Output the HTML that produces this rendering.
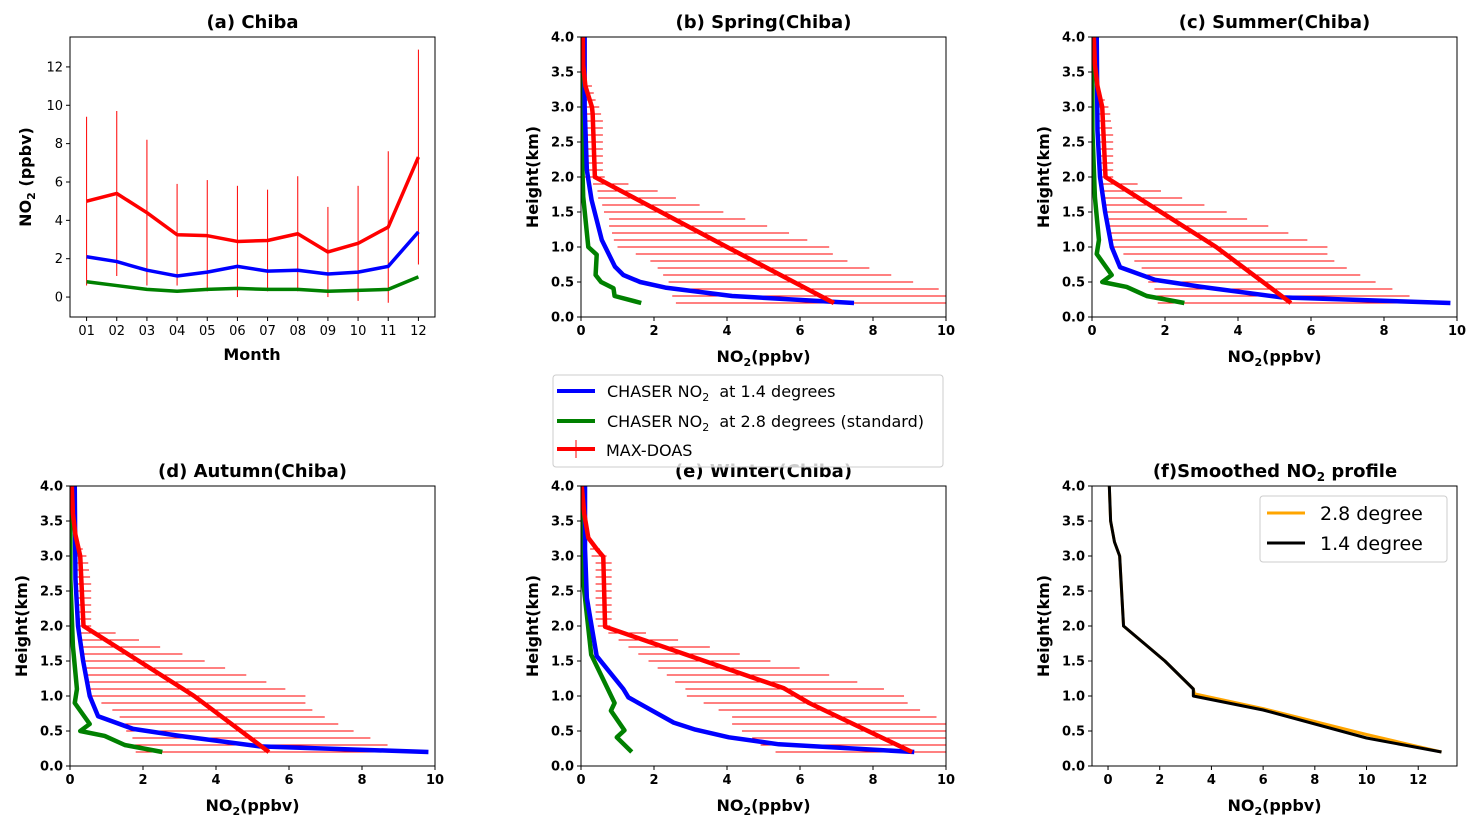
<!DOCTYPE html>
<html><head><meta charset="utf-8">
<style>
html,body{margin:0;padding:0;background:#fff;}
svg{display:block;font-family:"DejaVu Sans","Liberation Sans",sans-serif;}
</style></head>
<body>
<svg id="fig" width="1480" height="828" viewBox="0 0 1480 828" xmlns="http://www.w3.org/2000/svg"></svg>
<script>
// ---------- (a) monthly data ----------
const months = ["01","02","03","04","05","06","07","08","09","10","11","12"];
const aRed = [5.0,5.4,4.4,3.25,3.2,2.9,2.95,3.3,2.35,2.8,3.65,7.3];
const aRedErr = [4.4,4.3,3.8,2.65,2.9,2.9,2.65,3.0,2.35,3.0,3.95,5.6];
const aBlue = [2.1,1.85,1.4,1.1,1.3,1.6,1.35,1.4,1.2,1.3,1.6,3.4];
const aGreen = [0.8,0.6,0.4,0.3,0.4,0.45,0.4,0.4,0.3,0.35,0.4,1.05];
const aYTicks = [0,2,4,6,8,10,12];
const profXTicks = [0,2,4,6,8,10];
const profYTicks = [0.0,0.5,1.0,1.5,2.0,2.5,3.0,3.5,4.0];
const fXTicks = [0,2,4,6,8,10,12];
const errH = [0.2,0.3,0.4,0.5,0.6,0.7,0.8,0.9,1.0,1.1,1.2,1.3,1.4,1.5,1.6,1.7,1.8,1.9,2.0,2.1,2.2,2.3,2.4,2.5,2.6,2.7,2.8,2.9,3.0,3.1,3.2,3.3];
// ---------- (b) spring ----------
const bRedH = [0.2,1.0,1.8,2.0,2.9,3.0,3.3,3.6,4.0];
const bRedV = [6.93,4.0,1.1,0.38,0.32,0.3,0.12,0.06,0.05];
const bBlueH = [0.2,0.3,0.42,0.5,0.6,0.72,1.1,1.67,2.1,3.0,4.0];
const bBlueV = [7.48,4.14,2.31,1.62,1.16,0.93,0.57,0.29,0.16,0.1,0.1];
const bGreenH = [0.2,0.3,0.41,0.5,0.6,0.89,1.0,1.72,2.1,3.0,4.0];
const bGreenV = [1.65,0.92,0.89,0.55,0.40,0.43,0.2,0.06,0.04,0.02,0.02];
const bErrLo = [2.6,2.5,2.5,2.4,2.25,2.1,1.9,1.5,1.0,0.9,0.85,0.77,0.77,0.63,0.58,0.47,0.45,0.33,0.1,0.1,0.1,0.1,0.1,0.1,0.1,0.1,0.1,0.08,0.07,0.06,0.05,0.05];
const bErrHi = [12,12,9.8,9.1,8.5,7.9,7.3,6.9,6.8,6.2,5.7,5.1,4.5,3.9,3.25,2.6,2.1,1.3,0.65,0.6,0.6,0.6,0.6,0.6,0.6,0.6,0.6,0.55,0.5,0.4,0.35,0.3];
// ---------- (c) summer ----------
const cRedH = [0.2,1.0,1.1,2.0,3.0,3.3,3.6,4.0];
const cRedV = [5.45,3.4,3.1,0.37,0.28,0.15,0.08,0.05];
const cBlueH = [0.2,0.28,0.43,0.53,0.71,1.0,1.5,2.0,2.67,4.0];
const cBlueV = [9.82,5.2,3.0,1.73,0.77,0.54,0.36,0.22,0.15,0.13];
const cGreenH = [0.2,0.3,0.43,0.5,0.6,0.9,1.1,1.71,2.67,4.0];
const cGreenV = [2.53,1.5,0.95,0.28,0.54,0.13,0.19,0.08,0.01,0.01];
const cErrLo = [1.8,1.77,1.71,1.54,1.5,1.36,1.16,0.86,0.54,0.49,0.47,0.43,0.37,0.34,0.31,0.28,0.26,0.25,0.25,0.17,0.17,0.17,0.17,0.17,0.17,0.17,0.17,0.17,0.17,0.12,0.1,0.08];
const cErrHi = [9.6,8.7,8.23,7.77,7.35,6.98,6.64,6.45,6.45,5.9,5.38,4.83,4.25,3.69,3.08,2.47,1.89,1.25,0.58,0.58,0.58,0.58,0.58,0.58,0.58,0.55,0.52,0.5,0.45,0.35,0.25,0.2];
// ---------- (d) autumn ----------
const dRedH = [0.2,1.0,1.1,2.0,3.0,3.3,3.6,4.0];
const dRedV = [5.45,3.4,3.1,0.37,0.28,0.15,0.08,0.05];
const dBlueH = [0.2,0.28,0.43,0.53,0.71,1.0,1.5,2.0,2.67,4.0];
const dBlueV = [9.82,5.2,3.0,1.73,0.77,0.54,0.36,0.22,0.15,0.13];
const dGreenH = [0.2,0.3,0.43,0.5,0.6,0.9,1.1,1.71,2.67,4.0];
const dGreenV = [2.53,1.5,0.95,0.28,0.54,0.13,0.19,0.08,0.01,0.01];
const dErrLo = [1.8,1.77,1.71,1.54,1.5,1.36,1.16,0.86,0.54,0.49,0.47,0.43,0.37,0.34,0.31,0.28,0.26,0.25,0.25,0.17,0.17,0.17,0.17,0.17,0.17,0.17,0.17,0.17,0.17,0.12,0.1,0.08];
const dErrHi = [9.6,8.7,8.23,7.77,7.35,6.98,6.64,6.45,6.45,5.9,5.38,4.83,4.25,3.69,3.08,2.47,1.89,1.25,0.58,0.58,0.58,0.58,0.58,0.58,0.58,0.55,0.52,0.5,0.45,0.35,0.25,0.2];
// ---------- (e) winter ----------
const eRedH = [0.2,0.9,1.11,1.99,2.99,3.1,3.26,3.6,4.0];
const eRedV = [9.07,6.25,5.56,0.66,0.61,0.43,0.2,0.09,0.02];
const eBlueH = [0.2,0.31,0.41,0.52,0.62,0.98,1.1,1.57,2.4,3.1,4.0];
const eBlueV = [9.13,5.42,4.05,3.13,2.54,1.3,1.16,0.43,0.16,0.11,0.11];
const eGreenH = [0.2,0.41,0.51,0.79,0.9,1.59,2.64,4.0];
const eGreenV = [1.39,0.98,1.19,0.82,0.92,0.28,0.06,0.02];
const eErrLo = [5.33,4.92,4.69,4.41,4.14,4.14,3.77,3.36,2.9,2.86,2.58,2.35,2.1,1.85,1.57,1.3,1.03,0.75,0.46,0.4,0.4,0.4,0.4,0.4,0.4,0.4,0.4,0.4,0.29,0.25,0.2,0.2];
const eErrHi = [12,12,12,12,12,9.74,9.29,8.95,8.85,8.3,7.57,6.8,5.99,5.19,4.35,3.53,2.66,1.78,0.8,0.84,0.84,0.84,0.84,0.84,0.84,0.84,0.84,0.84,0.7,0.52,0.2,0.2];
// ---------- (f) smoothed ----------
const fBlackH = [0.2,0.4,0.8,1.0,1.1,1.5,2.0,3.0,3.2,3.5,4.0];
const fBlackV = [12.9,10,6,3.3,3.3,2.2,0.6,0.45,0.25,0.1,0.05];
const fOrangeH = [0.2,0.45,0.82,1.03,1.1,1.5,2.0,3.0,3.2,3.5,4.0];
const fOrangeV = [12.9,10,6,3.35,3.3,2.2,0.6,0.45,0.25,0.1,0.05];

const NS="http://www.w3.org/2000/svg";
const svg=document.getElementById('fig');
let clipN=0;
function mk(tag,attrs,parent){const e=document.createElementNS(NS,tag);for(const k in attrs)e.setAttribute(k,attrs[k]);(parent||svg).appendChild(e);return e;}
function txt(s,x,y,attrs,parent){const t=mk('text',Object.assign({x:x,y:y},attrs),parent);t.textContent=s;return t;}

function makeAxes(name,x0,x1,y0,y1,xmin,xmax,ymin,ymax){
  const g=mk('g',{});
  
  
  const sx=v=>x0+(v-xmin)/(xmax-xmin)*(x1-x0);
  const sy=v=>y1-(v-ymin)/(ymax-ymin)*(y1-y0);
  const id='clip'+(clipN++);
  const cp=mk('clipPath',{id:id},g);
  mk('rect',{x:x0,y:y0,width:x1-x0,height:y1-y0},cp);
  const plot=mk('g',{'clip-path':'url(#'+id+')'},g);
  
  
  return {g,plot,sx,sy,x0,x1,y0,y1};
}
function frame(ax){
  const r=mk('rect',{x:ax.x0,y:ax.y0,width:ax.x1-ax.x0,height:ax.y1-ax.y0,fill:'none',stroke:'#000','stroke-width':1},ax.g);
  
  
}
function xTicks(ax,vals,labels,bold){
  vals.forEach((v,i)=>{const x=ax.sx(v);
    mk('line',{x1:x,x2:x,y1:ax.y1,y2:ax.y1+4,stroke:'#000','stroke-width':1},ax.g);
    const t=txt(labels[i],x,ax.y1+18,{'font-size':13,'text-anchor':'middle','font-weight':bold?'bold':'normal'},ax.g);
    
    
  });
}
function yTicks(ax,vals,labels,bold){
  vals.forEach((v,i)=>{const y=ax.sy(v);
    mk('line',{x1:ax.x0-4,x2:ax.x0,y1:y,y2:y,stroke:'#000','stroke-width':1},ax.g);
    const t=txt(labels[i],ax.x0-7,y+4.5,{'font-size':13,'text-anchor':'end','font-weight':bold?'bold':'normal'},ax.g);
    
    
  });
}
function line(ax,xs,ys,color,w,name){
  const d=xs.map((x,i)=>(i?'L':'M')+ax.sx(x).toFixed(2)+' '+ax.sy(ys[i]).toFixed(2)).join(' ');
  const p=mk('path',{d:d,fill:'none',stroke:color,'stroke-width':w,'stroke-linejoin':'round'},ax.plot);
  
  
}
function title(ax,s,name){
  const t=txt(s,(ax.x0+ax.x1)/2,ax.y0-9,{'font-size':18,'font-weight':'bold','text-anchor':'middle'},ax.g);
  
  
  return t;
}
function no2Label(ax,y,name){
  const t=mk('text',{x:(ax.x0+ax.x1)/2,y:y,'font-size':16,'font-weight':'bold','text-anchor':'middle'},ax.g);
  
  
  t.innerHTML='NO<tspan font-size="11" dy="4">2</tspan><tspan dy="-4">(ppbv)</tspan>';
}
function heightLabel(ax){
  const cx=ax.x0-43, cy=(ax.y0+ax.y1)/2;
  const t=txt('Height(km)',cx,cy,{'font-size':16,'font-weight':'bold','text-anchor':'middle',transform:'rotate(-90 '+cx+' '+cy+')'},ax.g);
  
  
}

// ---------- panel (a) ----------
{
  const ax=makeAxes('panel-a-chiba',70,435,37,317,0.45,12.55,-1.04,13.56);
  aRed.forEach((v,i)=>{
    const l=mk('line',{x1:ax.sx(i+1),x2:ax.sx(i+1),y1:ax.sy(v-aRedErr[i]),y2:ax.sy(v+aRedErr[i]),stroke:'#ff0000','stroke-width':1},ax.plot);
    
    
  });
  const xs=months.map((m,i)=>i+1);
  line(ax,xs,aGreen,'#008000',3.5,'chaser-2.8-line');
  line(ax,xs,aBlue,'#0000ff',3.5,'chaser-1.4-line');
  line(ax,xs,aRed,'#ff0000',3.5,'max-doas-line');
  frame(ax);
  xTicks(ax,xs,months,false);
  yTicks(ax,aYTicks,aYTicks.map(String),false);
  title(ax,'(a) Chiba','panel-a-title');
  const xl=txt('Month',252,360,{'font-size':16,'font-weight':'bold','text-anchor':'middle'},ax.g);
  
  
  const yl=mk('text',{x:31,y:177,'font-size':16,'font-weight':'bold','text-anchor':'middle',transform:'rotate(-90 31 177)'},ax.g);
  
  
  yl.innerHTML='NO<tspan font-size="11" dy="4">2</tspan><tspan dy="-4"> (ppbv)</tspan>';
}

function profile(name,ttl,x0,y0,rH,rV,bH,bV,gH,gV,lo,hi){
  const ax=makeAxes(name,x0,x0+365,y0,y0+280,0,10,0,4);
  errH.forEach((h,i)=>{
    const l=mk('line',{x1:ax.sx(lo[i]),x2:ax.sx(hi[i]),y1:ax.sy(h),y2:ax.sy(h),stroke:'#ff0000','stroke-width':1},ax.plot);
    
    
  });
  line(ax,gV,gH,'#008000',4.5,'chaser-2.8-profile');
  line(ax,bV,bH,'#0000ff',4.5,'chaser-1.4-profile');
  line(ax,rV,rH,'#ff0000',4.5,'max-doas-profile');
  frame(ax);
  xTicks(ax,profXTicks,profXTicks.map(String),true);
  yTicks(ax,profYTicks,profYTicks.map(v=>v.toFixed(1)),true);
  const t=title(ax,ttl,name+'-title');
  no2Label(ax,y0+325,'x-axis-title');
  heightLabel(ax);
  return t;
}
profile('panel-b-spring','(b) Spring(Chiba)',581,37,bRedH,bRedV,bBlueH,bBlueV,bGreenH,bGreenV,bErrLo,bErrHi);
profile('panel-c-summer','(c) Summer(Chiba)',1092,37,cRedH,cRedV,cBlueH,cBlueV,cGreenH,cGreenV,cErrLo,cErrHi);
profile('panel-d-autumn','(d) Autumn(Chiba)',70,486,dRedH,dRedV,dBlueH,dBlueV,dGreenH,dGreenV,dErrLo,dErrHi);
profile('panel-e-winter','(e) Winter(Chiba)',581,486,eRedH,eRedV,eBlueH,eBlueV,eGreenH,eGreenV,eErrLo,eErrHi);

// ---------- panel (f) ----------
{
  const ax=makeAxes('panel-f-smoothed',1092,1457,486,766,-0.62,13.5,0,4);
  line(ax,fOrangeV,fOrangeH,'#ffa500',3,'orange-2.8-line');
  line(ax,fBlackV,fBlackH,'#000000',3,'black-1.4-line');
  frame(ax);
  xTicks(ax,fXTicks,fXTicks.map(String),true);
  yTicks(ax,profYTicks,profYTicks.map(v=>v.toFixed(1)),true);
  const t=mk('text',{x:1275,y:477,'font-size':18,'font-weight':'bold','text-anchor':'middle'},ax.g);
  
  
  t.innerHTML='(f)Smoothed NO<tspan font-size="12" dy="4">2</tspan><tspan dy="-4"> profile</tspan>';
  no2Label(ax,811,'x-axis-title');
  heightLabel(ax);
  const lg=mk('g',{});
  
  
  mk('rect',{x:1260,y:496,width:187,height:66,rx:3,fill:'#fff','fill-opacity':0.8,stroke:'#ccc'},lg);
  mk('line',{x1:1267,x2:1305,y1:513,y2:513,stroke:'#ffa500','stroke-width':3},lg);
  mk('line',{x1:1267,x2:1305,y1:543,y2:543,stroke:'#000','stroke-width':3},lg);
  const l1=txt('2.8 degree',1320,520,{'font-size':19},lg);
  
  
  const l2=txt('1.4 degree',1320,550,{'font-size':19},lg);
  
  
}

// ---------- main legend ----------
{
  const lg=mk('g',{});
  
  
  mk('rect',{x:553,y:375,width:390,height:92,rx:3,fill:'#fff','fill-opacity':0.8,stroke:'#ccc'},lg);
  mk('line',{x1:557,x2:595,y1:391,y2:391,stroke:'#0000ff','stroke-width':4},lg);
  mk('line',{x1:557,x2:595,y1:421,y2:421,stroke:'#008000','stroke-width':4},lg);
  mk('line',{x1:557,x2:595,y1:449,y2:449,stroke:'#ff0000','stroke-width':4},lg);
  mk('line',{x1:576,x2:576,y1:440,y2:458,stroke:'#ff0000','stroke-width':1},lg);
  const a=mk('text',{x:607,y:397,'font-size':16},lg);
  
  
  a.innerHTML='CHASER NO<tspan font-size="11" dy="4">2</tspan><tspan dy="-4">\u00a0 at 1.4 degrees</tspan>';
  const b=mk('text',{x:607,y:427,'font-size':16},lg);
  
  
  b.innerHTML='CHASER NO<tspan font-size="11" dy="4">2</tspan><tspan dy="-4">\u00a0 at 2.8 degrees (standard)</tspan>';
  const c=txt('MAX-DOAS',606,456,{'font-size':16},lg);
  
  
}
</script>
</body></html>
